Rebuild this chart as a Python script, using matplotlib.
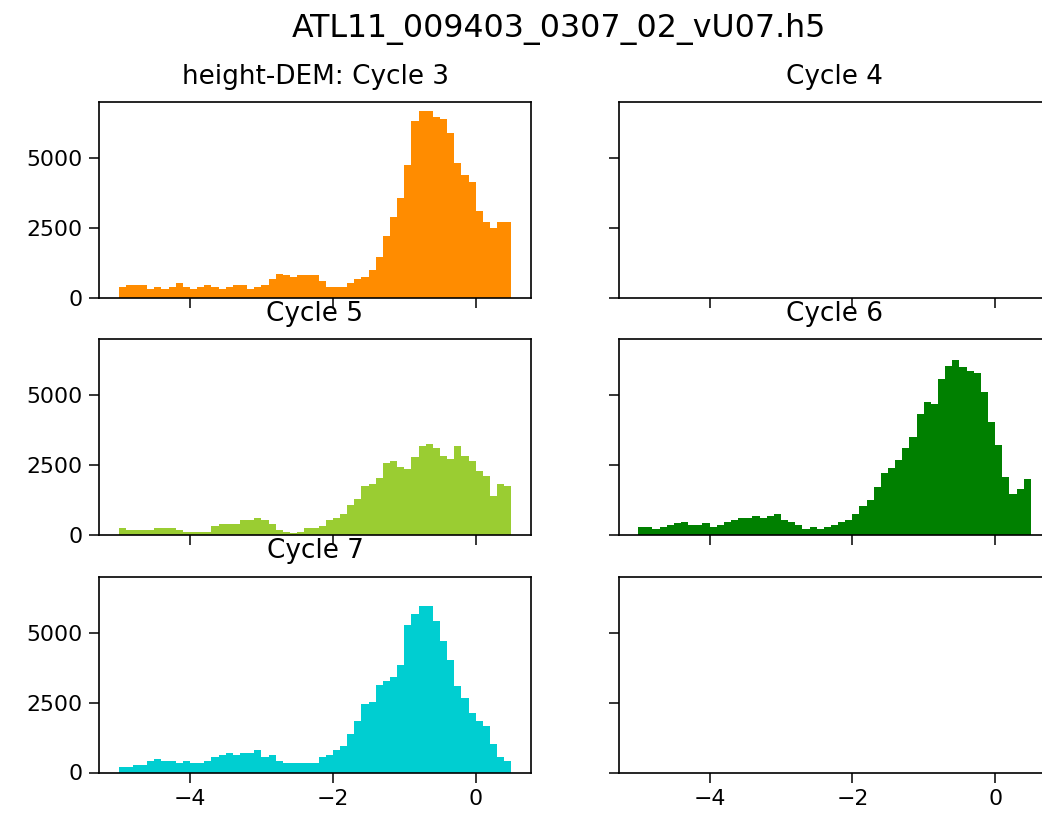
import numpy as np
import matplotlib
matplotlib.use("Agg")
import matplotlib.pyplot as plt

# Bin edges of the height-DEM histograms (m)
bin_lo, bin_hi, n_bins = -5.0, 0.5, 55

cycle3 = [391, 462, 462, 462, 332, 391, 332, 391, 521, 391, 332, 391, 462, 391, 332,
          391, 462, 462, 332, 391, 462, 675, 865, 818, 735, 806, 806, 806, 593, 391,
          391, 391, 533, 675, 735, 1007, 1481, 2228, 2903, 3590, 4764, 6328, 6672, 6672,
          6470, 6399, 5913, 4823, 4408, 4136, 3117, 2714, 2512, 2714, 2714]
cycle5 = [248, 177, 177, 177, 177, 248, 248, 248, 177, 118, 118, 118, 118, 319, 390,
          390, 390, 532, 532, 591, 532, 390, 177, 118, 59, 118, 248, 248, 319, 532,
          591, 733, 1076, 1277, 1749, 1820, 2021, 2565, 2636, 2435, 2364, 2801, 3180, 3250,
          3109, 2837, 2707, 3180, 2837, 2636, 2293, 2092, 1407, 1820, 1749]
cycle6 = [274, 274, 203, 274, 346, 418, 477, 346, 346, 418, 274, 346, 477, 549, 620,
          620, 692, 620, 692, 764, 549, 477, 346, 203, 274, 203, 274, 346, 477, 549,
          764, 1038, 1241, 1730, 2207, 2410, 2684, 3102, 3507, 4331, 4748, 4677, 5571, 6049,
          6239, 5989, 5846, 5786, 5094, 4056, 3233, 2076, 1455, 1658, 1992]
cycle7 = [201, 201, 273, 273, 415, 474, 415, 415, 344, 415, 344, 344, 415, 545, 616,
          687, 616, 687, 687, 818, 545, 616, 415, 344, 344, 344, 344, 344, 545, 616,
          818, 960, 1375, 1849, 2465, 2524, 3140, 3282, 3413, 3828, 5261, 5676, 5949, 5949,
          5404, 4716, 4029, 3081, 2666, 2121, 1849, 1647, 1031, 545, 415]

titles = ["height-DEM: Cycle 3", "Cycle 4", "Cycle 5", "Cycle 6", "Cycle 7", ""]
series = [cycle3, None, cycle5, cycle6, cycle7, None]
colors = ["darkorange", None, "yellowgreen", "green", "darkturquoise", None]
suptitle = "ATL11_009403_0307_02_vU07.h5"
xticks = [-4, -2, 0]
yticks = [0, 2500, 5000]

W, H = 1042, 815
fig, axes = plt.subplots(3, 2, sharex=True, sharey=True, figsize=(W / 100, H / 100), dpi=100)

lefts = [99 / W, 618.5 / W]
width = 432 / W
bottoms = [(H - 298) / H, (H - 535) / H, (H - 772.5) / H]
height = 196 / H

edges = np.linspace(bin_lo, bin_hi, n_bins + 1)
centers = 0.5 * (edges[:-1] + edges[1:])

for i, ax in enumerate(axes.flat):
    r, c = divmod(i, 2)
    ax.set_position([lefts[c], bottoms[r], width, height])
    if series[i] is not None:
        ax.hist(centers, bins=edges, weights=series[i], color=colors[i])
    if titles[i]:
        ax.set_title(titles[i], fontsize=18.9, pad=13)
    ax.tick_params(labelsize=15.8, length=7, width=1.1, pad=5)
    for s in ax.spines.values():
        s.set_linewidth(1.2)

axes[0, 0].set_xticks(xticks)
axes[0, 0].set_yticks(yticks)
axes[0, 0].set_ylim(0, max(cycle3) * 1.05)
axes[0, 0].set_xlim(bin_lo - 0.05 * (bin_hi - bin_lo), bin_hi + 0.05 * (bin_hi - bin_lo))

fig.text(559 / W, 1 - 37 / H, suptitle, ha="center", va="baseline", fontsize=22.8)

fig.savefig("out.png", dpi=100)
